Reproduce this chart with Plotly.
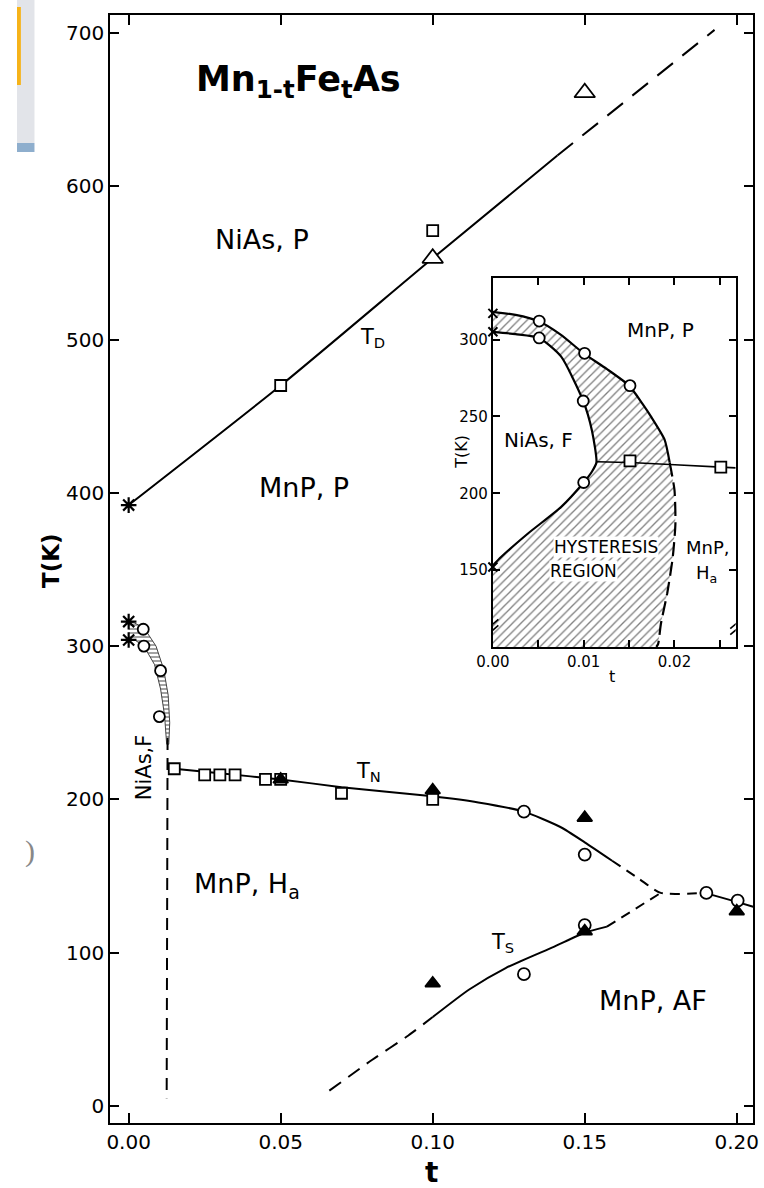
import plotly.graph_objects as go

# ---------------- main diagram data (t, T in K) ----------------
# T_D line (NiAs -> MnP transition)
td_solid_t = [0.0, 0.05, 0.10, 0.141]
td_solid_T = [392, 470, 553, 620]
td_dash_t = [0.141, 0.1927]
td_dash_T = [620, 702]

td_sq_t = [0.05, 0.10]
td_sq_T = [470, 571]
td_tri_t = [0.10, 0.15]
td_tri_T = [553, 661]
star_t = [0.0, 0.0, 0.0]
star_T = [392, 316, 304]

# NiAs,F band near t = 0
band_up_t = [0.0, 0.002, 0.005, 0.009, 0.0115, 0.013, 0.0135, 0.0132]
band_up_T = [316, 315, 312, 300, 285, 268, 250, 236]
band_lo_t = [0.0125, 0.0118, 0.0105, 0.0085, 0.005, 0.002, 0.0]
band_lo_T = [236, 255, 272, 288, 300, 304, 305]
band_circ_t = [0.0048, 0.005, 0.0105, 0.0101]
band_circ_T = [311, 300, 284, 254]
vdash_t = [0.0128, 0.0125]
vdash_T = [240, 5]

# T_N line
tn_solid_t = [0.015, 0.03, 0.05, 0.07, 0.10, 0.115, 0.13, 0.142, 0.15, 0.159]
tn_solid_T = [220, 217, 213, 208, 202, 198, 192, 182, 172, 160]
tn_dash_t = [0.159, 0.168, 0.175, 0.1895]
tn_dash_T = [160, 148, 139, 139]
tn_end_t = [0.1895, 0.2003, 0.2054]
tn_end_T = [139, 133, 130]
tn_sq_t = [0.015, 0.025, 0.030, 0.035, 0.045, 0.05, 0.07, 0.10]
tn_sq_T = [220, 216, 216, 216, 213, 213, 204, 200]
tn_circ_t = [0.13, 0.15, 0.19, 0.2003]
tn_circ_T = [192, 164, 139, 134]
ftri_t = [0.05, 0.10, 0.15, 0.15, 0.20, 0.10]
ftri_T = [213, 206, 188, 114, 127, 80]

# T_S line
ts_dash_t = [0.066, 0.08, 0.092, 0.100]
ts_dash_T = [10, 30, 46, 58]
ts_solid_t = [0.100, 0.112, 0.124, 0.14, 0.15, 0.1573]
ts_solid_T = [58, 76, 90, 104, 113, 117]
ts_dash2_t = [0.1573, 0.175]
ts_dash2_T = [117, 139]
ts_circ_t = [0.13, 0.15]
ts_circ_T = [86, 118]

# ---------------- inset data ----------------
in_outer_t = [0.0, 0.0025, 0.005, 0.0075, 0.010, 0.0125, 0.015, 0.0165, 0.0174, 0.0189, 0.01947]
in_outer_T = [318, 316, 312, 303, 291, 281, 270, 258, 250, 235, 220]
in_odash_t = [0.01947, 0.0200, 0.0201, 0.0198, 0.0192, 0.0185, 0.0182, 0.0180]
in_odash_T = [220, 202, 180, 158, 135, 115, 102, 100]
in_inner_t = [0.0, 0.0025, 0.0051, 0.0075, 0.00995, 0.0109, 0.0114, 0.0109, 0.0100, 0.0075, 0.0039, 0.0009, 0.0]
in_inner_T = [305, 303.5, 301, 289, 260, 241, 220, 214, 207, 191, 174, 158.5, 153]
in_hline_t = [0.0114, 0.0151, 0.0251, 0.02674]
in_hline_T = [220.5, 220, 217, 216.5]
in_circ_t = [0.0051, 0.0051, 0.0101, 0.0151, 0.00995, 0.0100]
in_circ_T = [312, 301, 291, 270, 260, 207]
in_sq_t = [0.0151, 0.0251]
in_sq_T = [221, 217]
in_x_t = [0.0, 0.0, 0.0]
in_x_T = [317, 305, 152]

main_yticks = [0, 100, 200, 300, 400, 500, 600, 700]
main_xticks = [0.0, 0.05, 0.10, 0.15, 0.20]
main_xlabels = ["0.00", "0.05", "0.10", "0.15", "0.20"]
in_yticks = [150, 200, 250, 300]
in_xticks = [0.0, 0.005, 0.01, 0.015, 0.02, 0.025]
in_xlabels = ["0.00", "", "0.01", "", "0.02", ""]

FONT = "DejaVu Sans"
W, H = 764, 1188


def px(x, y):
    return x / W, 1 - y / H


fig = go.Figure()


def line(x, y, dash="solid", width=2, xa="x", ya="y"):
    fig.add_trace(go.Scatter(x=x, y=y, mode="lines", xaxis=xa, yaxis=ya,
                             line=dict(color="black", width=width, dash=dash, shape="spline", smoothing=0.6),
                             hoverinfo="skip", showlegend=False))


def marks(x, y, symbol, size, fill="white", xa="x", ya="y", lw=1.8):
    fig.add_trace(go.Scatter(x=x, y=y, mode="markers", xaxis=xa, yaxis=ya, cliponaxis=False,
                             marker=dict(symbol=symbol, size=size, color=fill,
                                         line=dict(color="black", width=lw)),
                             hoverinfo="skip", showlegend=False))


# hatched NiAs,F band in the main diagram
fig.add_trace(go.Scatter(x=band_up_t + band_lo_t, y=band_up_T + band_lo_T, fill="toself",
                         mode="lines", line=dict(color="#444", width=1),
                         fillpattern=dict(shape="-", fgcolor="#333", bgcolor="white", size=4, solidity=0.45),
                         hoverinfo="skip", showlegend=False))

line(td_solid_t, td_solid_T)
line(td_dash_t, td_dash_T, dash="20px,12px")
line(vdash_t, vdash_T, dash="12px,8px")
line(tn_solid_t, tn_solid_T)
line(tn_dash_t, tn_dash_T, dash="10px,7px")
line(tn_end_t, tn_end_T)
line(ts_dash_t, ts_dash_T, dash="14px,9px")
line(ts_solid_t, ts_solid_T)
line(ts_dash2_t, ts_dash2_T, dash="10px,7px")

marks(td_sq_t, td_sq_T, "square", 11)
marks(td_tri_t, td_tri_T, "triangle-up", 18)
marks(star_t, star_T, "asterisk", 13, fill="black", lw=2.2)
marks(band_circ_t, band_circ_T, "circle", 11)
marks(tn_sq_t, tn_sq_T, "square", 11)
marks(tn_circ_t, tn_circ_T, "circle", 12)
marks(ts_circ_t, ts_circ_T, "circle", 12)
marks(ftri_t, ftri_T, "triangle-up", 13, fill="black")

# ---------------- inset ----------------
fig.add_trace(go.Scatter(x=in_outer_t + in_odash_t[1:] + [0.0] + in_inner_t[::-1],
                         y=in_outer_T + in_odash_T[1:] + [100] + in_inner_T[::-1],
                         fill="toself", mode="lines", line=dict(width=0, color="rgba(0,0,0,0)"),
                         fillpattern=dict(shape="/", fgcolor="black", bgcolor="white", size=6, solidity=0.22),
                         xaxis="x2", yaxis="y2", hoverinfo="skip", showlegend=False))
line(in_outer_t, in_outer_T, xa="x2", ya="y2", width=2.2)
line(in_odash_t, in_odash_T, dash="14px,6px", xa="x2", ya="y2", width=2.2)
line(in_inner_t, in_inner_T, xa="x2", ya="y2", width=2.2)
line(in_hline_t, in_hline_T, xa="x2", ya="y2", width=1.6)
marks(in_circ_t, in_circ_T, "circle", 11, xa="x2", ya="y2")
marks(in_sq_t, in_sq_T, "square", 11, xa="x2", ya="y2")
marks(in_x_t, in_x_T, "x-thin", 9, fill="black", xa="x2", ya="y2", lw=2)

axis_common = dict(showline=True, linecolor="black", linewidth=2, mirror="ticks", ticks="inside",
                   tickcolor="black", tickwidth=2, showgrid=False, zeroline=False)

fig.update_layout(
    width=W, height=H, margin=dict(l=0, r=0, t=0, b=0),
    paper_bgcolor="white", plot_bgcolor="white",
    font=dict(family=FONT, color="black"),
    xaxis=dict(domain=[96 / W, 758 / W], range=[-0.00606, 0.2054], tickvals=main_xticks,
               ticktext=main_xlabels, ticklen=10, tickfont=dict(size=20), ticklabeloverflow="allow",
               **axis_common),
    yaxis=dict(domain=[1 - 1123 / H, 1 - 15 / H], range=[-11.1, 711.7], tickvals=main_yticks,
               ticklen=9, tickfont=dict(size=20), ticklabeloverflow="allow", **axis_common),
    xaxis2=dict(domain=[490 / W, 740 / W], range=[0, 0.02674], anchor="y2", tickvals=in_xticks,
                ticktext=in_xlabels, ticklen=7, tickfont=dict(size=15), **axis_common),
    yaxis2=dict(domain=[1 - 647 / H, 1 - 278 / H], range=[100, 340], anchor="x2", tickvals=in_yticks,
                ticklen=7, tickfont=dict(size=15), **axis_common),
)

# axis break marks on the inset
for xv in (0.0, 0.02674):
    for dy in (0, 4):
        fig.add_shape(type="line", xref="x2", yref="y2", x0=xv - 0.0006, x1=xv + 0.0006,
                      y0=108 + dy, y1=114 + dy, line=dict(color="black", width=1.6))

labels = [
    ("Mn<sub>1-t</sub>Fe<sub>t</sub>As", 290, 82, 35, 0, True),
    ("NiAs, P", 252, 240, 27, 0, False),
    ("T<sub>D</sub>", 366, 338, 21, 0, False),
    ("MnP, P", 295, 487, 27, 0, False),
    ("NiAs,F", 131, 767, 21, -90, False),
    ("T<sub>N</sub>", 362, 772, 21, 0, False),
    ("MnP, H<sub>a</sub>", 237, 885, 27, 0, False),
    ("T<sub>S</sub>", 500, 943, 21, 0, False),
    ("MnP, AF", 655, 1000, 27, 0, False),
    ("T(K)", 35, 560, 23, -90, True),
    ("t", 427, 1172, 28, 0, True),
    ("MnP, P", 663, 330, 20, 0, False),
    ("NiAs, F", 537, 440, 20, 0, False),
    ("T(K)", 458, 452, 16, -90, False),
    ("t", 613, 676, 16, 0, False),
]
for text, x, y, size, ang, bold in labels:
    xp, yp = px(x, y)
    fig.add_annotation(text=f"<b>{text}</b>" if bold else text, x=xp, y=yp, xref="paper", yref="paper",
                       showarrow=False, textangle=ang, font=dict(size=size, family=FONT, color="black"),
                       xanchor="center", yanchor="middle")

for text, x, y, size in [("HYSTERESIS", 606, 547, 17), ("REGION", 583, 571, 17),
                         ("MnP,", 712, 547, 18), ("H<sub>a</sub>", 710, 574, 18)]:
    xp, yp = px(x, y)
    fig.add_annotation(text=text, x=xp, y=yp, xref="paper", yref="paper", showarrow=False,
                       font=dict(size=size, family=FONT, color="black"), bgcolor="white",
                       borderpad=0, xanchor="center", yanchor="middle")

# page chrome at the left edge
fig.add_shape(type="rect", xref="paper", yref="paper", x0=0, x1=18 / W, y0=1 - 143 / H, y1=1,
              fillcolor="#e2e4e9", line=dict(width=0), layer="above")
fig.add_shape(type="rect", xref="paper", yref="paper", x0=0, x1=4 / W, y0=1 - 85 / H, y1=1 - 7 / H,
              fillcolor="#f6b319", line=dict(width=0), layer="above")
fig.add_shape(type="rect", xref="paper", yref="paper", x0=0, x1=18 / W, y0=1 - 152 / H, y1=1 - 143 / H,
              fillcolor="#8eaecd", line=dict(width=0), layer="above")
xp, yp = px(6, 870)
fig.add_annotation(text=")", x=xp, y=yp, xref="paper", yref="paper", showarrow=False,
                   font=dict(size=30, family="Liberation Serif", color="#888"))

fig.write_html("out.html")
